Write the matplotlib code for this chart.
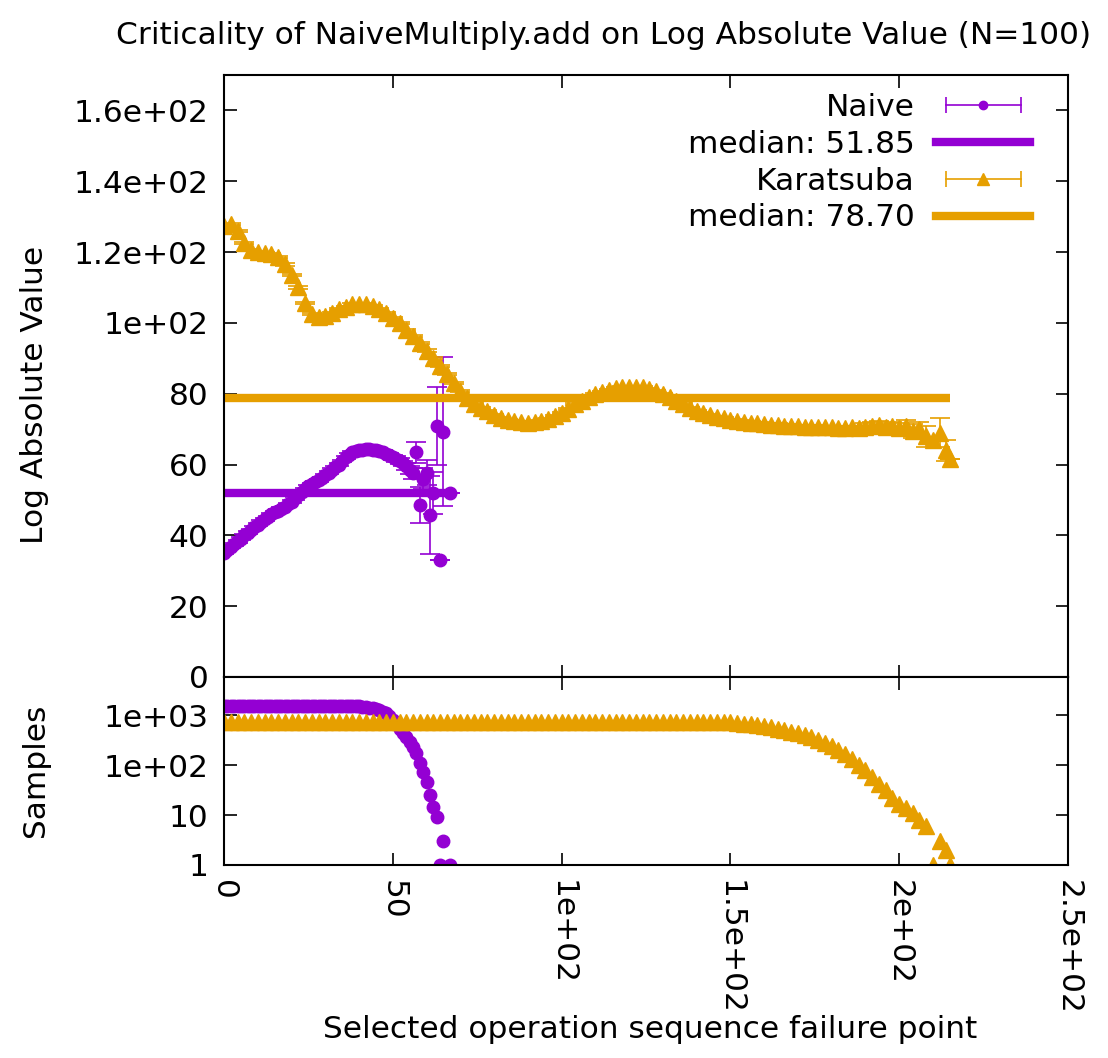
import numpy as np
import matplotlib
matplotlib.use("Agg")
import matplotlib.pyplot as plt
from matplotlib.lines import Line2D
from matplotlib.legend_handler import HandlerLine2D

# ---- data ----
naive_x = [0, 1, 2, 3, 4, 5, 6, 7, 8, 9, 10, 11, 12, 13, 14, 15, 16, 17, 18, 19,
           20, 21, 22, 23, 24, 25, 26, 27, 28, 29, 30, 31, 32, 33, 34, 35, 36, 37, 38, 39,
           40, 41, 42, 43, 44, 45, 46, 47, 48, 49, 50, 51, 52, 53, 54, 55, 56, 57, 58, 59,
           60, 61, 62, 63, 64, 65, 67]
naive_val = [35.0, 36.0, 36.8, 37.5, 38.3, 39.0, 40.0, 40.8, 41.5, 42.3,
             43.0, 43.8, 44.5, 45.2, 46.0, 46.5, 47.0, 47.5, 48.0, 48.8,
             49.5, 50.5, 51.5, 52.2, 53.0, 53.8, 54.5, 55.0, 55.5, 56.2,
             57.0, 57.7, 58.5, 59.2, 60.0, 61.0, 62.0, 62.8, 63.5, 63.8,
             64.0, 64.2, 64.3, 64.3, 64.2, 64.0, 63.8, 63.5, 63.0, 62.6,
             62.0, 61.5, 61.0, 60.3, 59.5, 58.5, 57.5, 63.4, 48.6, 56.0,
             57.7, 45.8, 52.0, 70.8, 33.0, 69.3, 52.0]
naive_err = [0.4] * 41 + [0.6, 0.6, 0.6, 0.6, 0.6, 0.6, 0.6, 0.6, 0.6, 0.6,
                          0.8, 0.8, 0.8, 1.0, 1.2, 1.5, 3.0, 5.0, 3.0, 3.5,
                          11.0, 6.0, 11.0, 0.0, 21.0, 0.0]
# plateau: every run reaches the early operations
naive_samples = [1500] * 41 + [1480, 1450, 1420, 1380, 1320, 1250, 1170, 1080, 950, 800,
                               650, 520, 430, 360, 290, 230, 174, 110, 72, 46,
                               25, 14.5, 9, 1, 3, 1]

kara_x = list(range(0, 216, 2)) + [215]
kara_val = [127.5, 128.0, 126.0, 122.5, 120.5, 120.0, 119.8, 119.5, 118.5, 116.5,
            113.5, 110.0, 105.5, 102.5, 101.8, 102.0, 102.8, 103.8, 104.6, 105.2,
            105.4, 105.2, 104.8, 104.0, 102.8, 101.5, 100.0, 98.0, 96.2, 94.2,
            92.2, 90.0, 87.8, 85.5, 83.0, 80.8, 78.8, 77.2, 76.0, 75.0,
            74.0, 73.2, 72.6, 72.2, 71.9, 71.8, 71.9, 72.2, 72.8, 73.6,
            74.6, 75.8, 77.0, 78.0, 79.0, 79.8, 80.5, 81.0, 81.5, 81.8,
            82.0, 82.0, 81.8, 81.4, 80.8, 80.0, 79.0, 78.0, 77.0, 76.0,
            75.2, 74.5, 74.0, 73.5, 73.0, 72.6, 72.3, 72.0, 71.8, 71.6,
            71.5, 71.3, 71.2, 71.0, 71.0, 70.8, 70.7, 70.6, 70.6, 70.5,
            70.5, 70.4, 70.4, 70.5, 70.4, 70.6, 71.0, 71.2, 70.5, 71.0,
            70.2, 71.0, 69.5, 70.0, 68.0, 67.0, 69.0, 64.0, 61.5]
kara_err = [0.3] * 76 + [0.5, 0.5, 0.5, 0.5, 0.5, 0.5, 0.5, 0.5, 0.5, 0.5,
                         0.5, 0.5, 0.5, 0.5, 0.5, 0.5, 0.5, 0.5, 0.5,
                         1.0, 1.0, 1.0, 1.0, 1.0, 1.5, 1.5, 2.0, 2.0, 3.0,
                         0.0, 4.0, 3.0, 0.0]
kara_samples = [724] * 76 + [700, 680, 660, 630, 600, 570, 540, 505, 470, 437,
                             400, 360, 320, 280, 240, 200, 165, 130, 100, 78,
                             58, 42, 32, 22, 17, 14, 11, 8, 6, 1,
                             3, 2, 1]

naive_median = 51.85
kara_median = 78.70
naive_span = [0, 67]
kara_span = [0, 215]

top_ticks = [0, 20, 40, 60, 80, 100, 120, 140, 160]
top_labels = ["0", "20", "40", "60", "80", "1e+02", "1.2e+02", "1.4e+02", "1.6e+02"]
bot_ticks = [1, 10, 100, 1000]
bot_labels = ["1", "10", "1e+02", "1e+03"]
x_ticks = [0, 50, 100, 150, 200, 250]
x_labels = ["0", "50", "1e+02", "1.5e+02", "2e+02", "2.5e+02"]

PURPLE = "#9400d3"
ORANGE = "#e69f00"
FS = 22.5

plt.rcParams['font.family'] = ['DejaVu Sans']
fig = plt.figure(figsize=(11.08, 10.58), dpi=100)
ax = fig.add_axes([224 / 1108, 1 - 677 / 1058, 844 / 1108, 602 / 1058])
ax2 = fig.add_axes([224 / 1108, 1 - 865 / 1058, 844 / 1108, 188 / 1058])

# top panel
ax.errorbar(naive_x, naive_val, yerr=naive_err, fmt='o', color=PURPLE, ms=9,
            elinewidth=1.2, capsize=7, capthick=1.2)
ax.plot(naive_span, [naive_median, naive_median], color=PURPLE, lw=6, solid_capstyle='butt')
ax.errorbar(kara_x, kara_val, yerr=kara_err, fmt='^', color=ORANGE, ms=12,
            elinewidth=1.2, capsize=7, capthick=1.2)
ax.plot(kara_span, [kara_median, kara_median], color=ORANGE, lw=6, solid_capstyle='butt')

ax.set_xlim(0, 250)
ax.set_ylim(0, 170)
ax.set_yticks(top_ticks)
ax.set_yticklabels(top_labels)
ax.set_xticks(x_ticks)
ax.set_xticklabels([])

# bottom panel
ax2.plot(naive_x, naive_samples, 'o', color=PURPLE, ms=9)
ax2.plot(kara_x, kara_samples, '^', color=ORANGE, ms=12)
ax2.set_yscale('log')
ax2.set_xlim(0, 250)
ax2.set_ylim(1, 5800)
ax2.set_yticks(bot_ticks)
ax2.set_yticklabels(bot_labels)
ax2.set_xticks(x_ticks)
ax2.set_xticklabels(x_labels, rotation=-90)

for a in (ax, ax2):
    a.tick_params(which='major', direction='in', length=9, width=1.2, labelsize=FS,
                  top=True, right=True, pad=11)
    a.tick_params(which='minor', direction='in', length=4.5, width=1.0, right=True)
    for s in a.spines.values():
        s.set_linewidth(1.5)

# legend, gnuplot style (text right-aligned before the sample)
naive_caps = Line2D([], [], color=PURPLE, lw=1.2, marker='|', ms=12, mew=1.2)
naive_dot = Line2D([], [], color=PURPLE, lw=0, marker='o', ms=6)
kara_caps = Line2D([], [], color=ORANGE, lw=1.2, marker='|', ms=12, mew=1.2)
kara_dot = Line2D([], [], color=ORANGE, lw=0, marker='^', ms=8)
naive_med = Line2D([], [], color=PURPLE, lw=6)
kara_med = Line2D([], [], color=ORANGE, lw=6)
ax.legend([(naive_caps, naive_dot), naive_med, (kara_caps, kara_dot), kara_med],
          ["Naive", "median: %.2f" % naive_median, "Karatsuba", "median: %.2f" % kara_median],
          handler_map={naive_caps: HandlerLine2D(numpoints=2),
                       kara_caps: HandlerLine2D(numpoints=2)},
          loc='upper right', bbox_to_anchor=(0.955, 0.97), frameon=False,
          markerfirst=False, fontsize=FS, handlelength=3.0, handletextpad=0.7,
          labelspacing=0.25, borderpad=0, borderaxespad=0)

fig.text(604 / 1108, 1 - 35 / 1058, "Criticality of NaiveMultiply.add on Log Absolute Value (N=100)",
         ha='center', va='center', fontsize=FS)
fig.text(35 / 1108, 1 - 395 / 1058, "Log Absolute Value", rotation=90,
         ha='center', va='center', fontsize=FS)
fig.text(35 / 1108, 1 - 770 / 1058, "Samples", rotation=90,
         ha='center', va='center', fontsize=FS)
fig.text(650 / 1108, 1 - 1030 / 1058, "Selected operation sequence failure point",
         ha='center', va='center', fontsize=FS)

fig.savefig("out.png", dpi=100)
